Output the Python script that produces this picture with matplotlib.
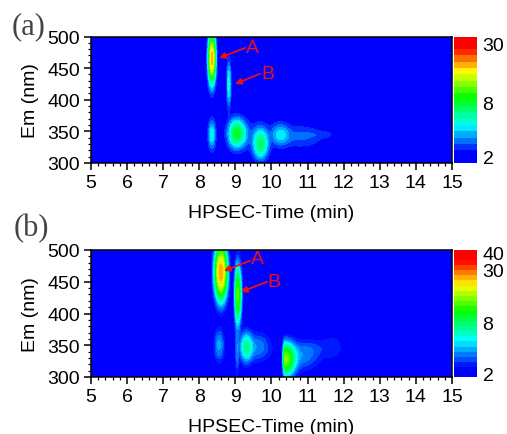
import numpy as np
import matplotlib
matplotlib.use("Agg")
import matplotlib.pyplot as plt
from matplotlib.colors import LinearSegmentedColormap, BoundaryNorm, ListedColormap
from matplotlib.cm import ScalarMappable

# peak tables: time, emission, left/right time width, emission width, height
a_t = [8.35, 8.82, 8.35, 9.03, 9.70, 10.25, 10.80, 11.50, 9.50]
a_em = [465, 425, 345, 347, 330, 345, 342, 345, 342]
a_sl = [.056, .032, .060, .13, .12, .15, .40, .36, .40]
a_sr = [.056, .032, .060, .15, .12, .15, .40, .16, .40]
a_se = [22, 21, 14, 13, 14, 10.5, 11, 3.5, 15]
a_h = [17, 3.0, 2.6, 6.3, 4.8, 2.0, 0.9, 0.4, 0.6]

b_t = [8.60, 9.06, 8.55, 9.30, 9.60, 9.05, 10.38, 10.85, 11.70, 11.10]
b_em = [465, 430, 350, 347, 347, 340, 328, 332, 347, 345]
b_sl = [.095, .045, .085, .10, .24, .030, .035, .30, .20, .35]
b_sr = [.095, .060, .085, .10, .24, .030, .16, .30, .20, .35]
b_se = [24, 27, 16, 14, 14, 22, 15, 14, 13, 10]
b_h = [24, 11, 2.0, 4.6, 1.7, 1.5, 12, 1.4, 0.6, 0.6]

a_levels = [1.82, 2.0, 2.25, 2.7, 3.2, 3.8, 4.5, 5.3, 6.3, 7.3, 8.5, 9.8, 11.3, 13.0, 15.0, 17.3, 20.0, 23.0, 26.5, 30.5, 35.0]
b_levels = [1.85, 2.05, 2.3, 2.7, 3.15, 3.7, 4.25, 4.85, 5.5, 6.3, 7.2, 8.2, 9.3, 10.6, 12.0, 13.7, 15.6, 17.7, 20.0, 22.9, 26.0, 29.6, 32.0, 35.0, 38.5, 42.0]
a_ticks = [2, 8, 30]
b_ticks = [2, 8, 30, 40]
a_arrows = [("A", 9.27, 482, 8.55, 466, 9.46, 482), ("B", 9.68, 441, 8.99, 425, 9.90, 442)]
b_arrows = [("A", 9.40, 483, 8.68, 467, 9.60, 486), ("B", 9.88, 450, 9.15, 434, 10.07, 451)]

plt.rcParams["font.family"] = ["Liberation Sans", "DejaVu Sans"]
W, H = 507, 435
fig = plt.figure(figsize=(W / 100, H / 100), dpi=100)
cmap = LinearSegmentedColormap.from_list("rb", [
    (0, "#0000ff"), (.06, "#0000ff"), (.28, "#00ffff"), (.52, "#00ff00"),
    (.73, "#ffff00"), (.93, "#ff0000"), (1, "#ff0000")])
T = np.linspace(5, 15, 1201)
E = np.linspace(300, 500, 601)
TT, EE = np.meshgrid(T, E)


def field(t, em, sl, sr, se, h):
    z = np.full(TT.shape, 1.9)
    for a, b, c, d, e, f in zip(t, em, sl, sr, se, h):
        s = np.where(TT < a, c, d)
        z += f * np.exp(-(TT - a) ** 2 / (2 * s ** 2) - (EE - b) ** 2 / (2 * e ** 2))
    return z


def panel(top, bottom, tag, tag_xy, peaks, levels, ticks, arrows):
    ax = fig.add_axes([91 / W, 1 - bottom / H, 361 / W, (bottom - top) / H])
    n = len(levels) - 1
    cols = [cmap(i / (n - 1)) for i in range(n)]
    ax.set_facecolor("#0000ff")
    z = np.clip(field(*peaks), levels[0], levels[-1] * .999)
    ax.contourf(TT, EE, z, levels=levels, colors=cols)
    ax.set_xlim(5, 15)
    ax.set_ylim(300, 500)
    ax.set_xticks(range(5, 16))
    ax.set_yticks(range(300, 501, 50))
    ax.set_xticks(np.arange(5, 15.01, .2), minor=True)
    ax.set_yticks(range(300, 501, 10), minor=True)
    ax.tick_params(which="major", length=5, width=1.1, labelsize=14, pad=3)
    ax.tick_params(which="minor", length=2.5, width=.9)
    ax.set_xlabel("HPSEC-Time (min)", fontsize=14, labelpad=9)
    ax.set_ylabel("Em (nm)", fontsize=14, labelpad=6)
    for s in ax.spines.values():
        s.set_linewidth(1.1)
    for name, x0, y0, x1, y1, lx, ly in arrows:
        ax.annotate("", xy=(x1, y1), xytext=(x0, y0),
                    arrowprops=dict(arrowstyle="-|>", color="#ee1111", lw=1.3,
                                    mutation_scale=9, shrinkA=0, shrinkB=0))
        ax.text(lx, ly, name, color="#ee1111", fontsize=14, ha="center", va="center")
    cax = fig.add_axes([453.5 / W, 1 - bottom / H, 23.5 / W, (bottom - top) / H])
    norm = BoundaryNorm(levels, n)
    sm = ScalarMappable(norm=norm, cmap=ListedColormap(cols))
    cb = fig.colorbar(sm, cax=cax, ticks=ticks, spacing="uniform")
    cb.ax.minorticks_off()
    cb.ax.tick_params(length=0, labelsize=14, pad=4)
    cb.outline.set_visible(False)
    cb.set_ticklabels([str(v) for v in ticks])
    fig.text(tag_xy[0] / W, 1 - tag_xy[1] / H, tag, family="Liberation Serif",
             fontsize=22, ha="left", va="center", color="#444444")


panel(37.5, 164, "(a)", (12, 27), (a_t, a_em, a_sl, a_sr, a_se, a_h), a_levels, a_ticks, a_arrows)
panel(251, 378, "(b)", (14, 229), (b_t, b_em, b_sl, b_sr, b_se, b_h), b_levels, b_ticks, b_arrows)
fig.savefig("out.png", dpi=100)
